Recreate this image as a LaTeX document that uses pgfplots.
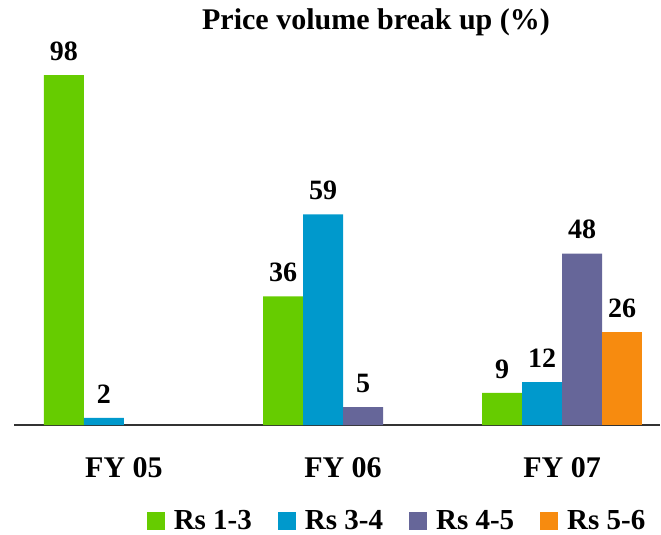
\documentclass[border=0pt]{standalone}
\usepackage{pgfplots}
\pgfplotsset{compat=1.18}
\usepackage{fontspec}
\setmainfont{Liberation Serif}
\definecolor{cgreen}{HTML}{66CC00}
\definecolor{cblue}{HTML}{0099CC}
\definecolor{cpurple}{HTML}{666699}
\definecolor{corange}{HTML}{F78B0F}
\begin{document}
\begin{tikzpicture}[x=1pt,y=1pt]
\useasboundingbox (0,0) rectangle (661,-535);
\node[font=\fontsize{30}{34}\selectfont\bfseries] at (376,-22) {Price volume break up (\%)};
\begin{axis}[
  at={(14pt,-425pt)}, anchor=south west,
  scale only axis, width=646pt, height=357.1pt,
  ymin=0, ymax=100, xmin=-0.502, xmax=2.447,
  axis y line=none, axis x line*=bottom,
  x axis line style={black!80, line width=1.2pt, -},
  ybar=0pt, bar width=40pt,
  xtick={0,1,2}, xticklabels={FY 05,FY 06,FY 07},
  major tick length=0pt,
  xticklabel style={font=\fontsize{30}{34}\selectfont\bfseries, yshift=-29pt},
  nodes near coords={\pgfmathprintnumber[assume math mode=true]{\pgfplotspointmeta}},
  every node near coord/.append style={font=\fontsize{28}{32}\selectfont\bfseries, yshift=11pt},
  clip=false,
  legend columns=4,
  legend style={draw=none, at={(0.593,-0.268)}, anchor=center,
    font=\fontsize{29}{31}\selectfont\bfseries,
    /tikz/every even column/.append style={column sep=24pt},
    /tikz/every odd column/.append style={column sep=7pt}},
  legend image code/.code={\fill[#1] (0pt,-9pt) rectangle (18pt,9pt);},
]
\addplot[fill=cgreen, draw=none] coordinates {(0,98) (1,36) (2,9)};
\addplot[fill=cblue, draw=none] coordinates {(0,2) (1,59) (2,12)};
\addplot[fill=cpurple, draw=none] coordinates {(1,5) (2,48)};
\addplot[fill=corange, draw=none] coordinates {(2,26)};
\legend{Rs 1-3, Rs 3-4, Rs 4-5, Rs 5-6}
\end{axis}
\end{tikzpicture}
\end{document}
